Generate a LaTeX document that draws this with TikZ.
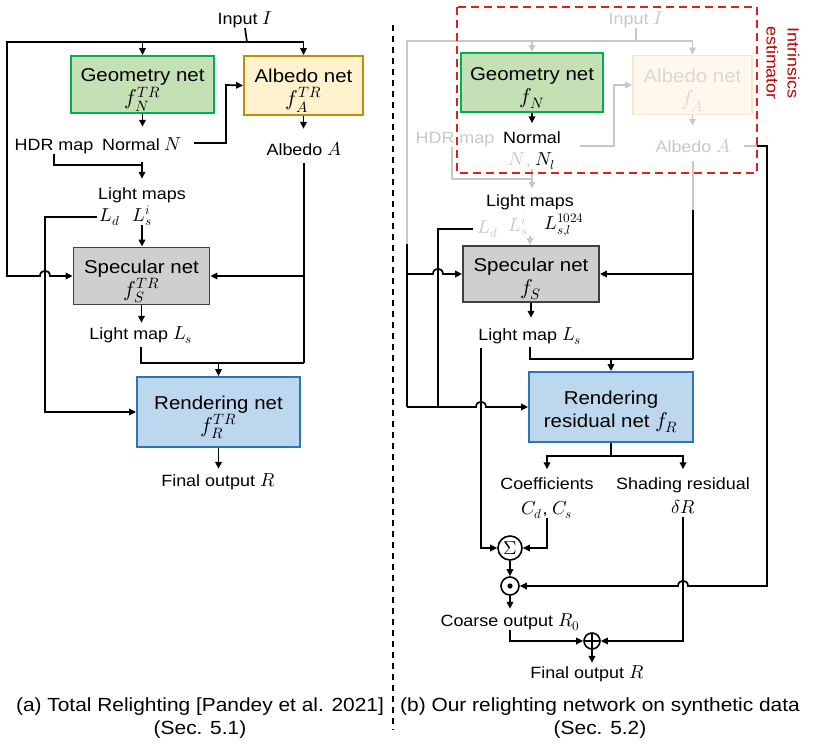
\documentclass[tikz,border=0pt]{standalone}
\usepackage{fontspec}
\usepackage{unicode-math}
\setmainfont[FakeStretch=1.1]{Liberation Sans}
\setmathfont{latinmodern-math.otf}[Scale=1.15]
\usetikzlibrary{arrows.meta}
\definecolor{geofill}{HTML}{C5E0B4}
\definecolor{geodraw}{HTML}{00B050}
\definecolor{albfill}{HTML}{FFF2CC}
\definecolor{albdraw}{HTML}{BF9000}
\definecolor{specfill}{HTML}{D0CECE}
\definecolor{specdraw}{HTML}{404040}
\definecolor{rendfill}{HTML}{BDD7EE}
\definecolor{renddraw}{HTML}{2E75B6}
\definecolor{lgray}{HTML}{C8C8C8}
\definecolor{albfade}{HTML}{FEF9EC}
\definecolor{albfadedraw}{HTML}{F4EACB}
\definecolor{fadetext}{HTML}{D9D9D9}
\definecolor{iered}{HTML}{C00000}
\definecolor{dashred}{HTML}{E02020}
\newcommand\labfont{\fontsize{16.3}{21}\selectfont}
\newcommand\titfont{\fontsize{18.6}{23}\selectfont}
\newcommand\capfont{\fontsize{19}{23}\selectfont}
\newcommand\topstrut{\rule{0pt}{24pt}}
\begin{document}
\begin{tikzpicture}[x=1pt,y=-1pt,
  ln/.style={line width=1.7pt, draw=black},
  arr/.style={ln, -{Triangle[length=7pt,width=6.5pt]}},
  gl/.style={line width=1.7pt, draw=lgray},
  garr/.style={gl, -{Triangle[length=7pt,width=6.5pt]}},
  lab/.style={font=\labfont, inner sep=0pt, text height=12pt, text depth=4pt},
  glab/.style={lab, text=lgray},
  box/.style={draw, line width=1.8pt, align=center, font=\titfont, inner sep=0pt},
  opnode/.style={circle, draw, line width=1.6pt, inner sep=0pt},
]
\useasboundingbox (0,0) rectangle (830,753);

% ---------------- left panel ----------------
\node[box, fill=geofill, draw=geodraw, minimum width=143pt, minimum height=57pt] (geoA) at (142.5,84.5) {\topstrut Geometry net\\$f_N^{TR}$};
\node[box, fill=albfill, draw=albdraw, minimum width=119pt, minimum height=59pt] (albA) at (303.5,85.5) {\topstrut Albedo net\\$f_A^{TR}$};
\node[box, fill=specfill, draw=specdraw, minimum width=136pt, minimum height=57pt] (specA) at (141.5,276) {\topstrut Specular net\\$f_S^{TR}$};
\node[box, fill=rendfill, draw=renddraw, minimum width=163pt, minimum height=70pt] (rendA) at (218.5,412) {\topstrut Rendering net\\$f_R^{TR}$};

\node[lab] (inA) at (245,20) {Input $I$};
\node[lab] (hdrA) at (54,146) {HDR map};
\node[lab] (norA) at (142,146) {Normal $N$};
\node[lab] (albLA) at (304,151) {Albedo $A$};
\node[lab] (lmA) at (142,195) {Light maps};
\node[lab] (ldA) at (110,217) {$L_d$};
\node[lab] (lsiA) at (142,217) {$L_s^i$};
\node[lab] (lmsA) at (141,335) {Light map $L_s$};
\node[lab] (finA) at (218,482) {Final output $R$};
\node[font=\capfont, align=center, inner sep=0pt] (capA) at (200,718) {(a) Total Relighting [Pandey et al. 2021]\\(Sec. 5.1)};

\coordinate (jA) at (247,42);
\coordinate (jH) at (142,165);
\coordinate (jAl) at (304,363);
\draw[ln] (inA.south) -- (jA);
\draw[arr] (jA) -| (geoA.north);
\draw[arr] (jA) -| (albA.north);
\draw[arr] (jA) -- (7,42) -- (7,276) -- (40,276) .. controls (40,269) and (50,269) .. (50,276) -- (specA.west);
\draw[arr, shorten >=11pt] (geoA.south) -- (geoA.south |- norA.north);
\draw[arr, shorten <=12pt] ([yshift=3pt]norA.east) -| (226,85) -- (albA.west);
\draw[arr, shorten >=14pt] (albA.south) -- (albA.south |- albLA.north);
\draw[ln] (hdrA.south) |- (jH);
\draw[ln, shorten <=8pt] (norA.south) -- (jH);
\draw[arr, shorten >=8pt] (jH) -- (jH |- lmA.north);
\draw[arr, shorten <=3pt] (ldA.west) -| (45,300) |- (rendA.west);
\draw[arr] (lsiA.south) -- (lsiA.south |- specA.north);
\draw[ln, shorten <=4pt] (albLA.south) -- (jAl);
\draw[arr] (albLA.south |- specA.east) -- (specA.east);
\draw[arr, shorten >=4pt] (specA.south) -- (specA.south |- lmsA.north);
\draw[ln, shorten <=4pt] (lmsA.south) |- (jAl);
\draw[arr] (rendA.north |- jAl) -- (rendA.north);
\draw[arr, shorten >=5pt] (rendA.south) -- (rendA.south |- finA.north);

% divider
\draw[line width=1.5pt, dash pattern=on 6pt off 5pt] (393,25) -- (393,730);

% ---------------- right panel ----------------
\node[box, fill=geofill, draw=geodraw, minimum width=142pt, minimum height=59pt] (geoB) at (532,82.5) {\topstrut Geometry net\\$f_N$};
\node[box, fill=albfade, draw=albfadedraw, text=fadetext, minimum width=119pt, minimum height=59pt] (albB) at (692.5,85) {\topstrut Albedo net\\$f_A$};
\node[box, fill=specfill, draw=specdraw, minimum width=136pt, minimum height=56pt] (specB) at (531,274) {\topstrut Specular net\\$f_S$};
\node[box, fill=rendfill, draw=renddraw, minimum width=164pt, minimum height=70pt] (rendB) at (611,407) {\topstrut Rendering\\residual net $f_R$};

\node[glab] (inB) at (636,20) {Input $I$};
\node[glab] (hdrB) at (455,139) {HDR map};
\node[lab] (norB) at (532,139) {Normal};
\node[lab] (nnlB) at (532,161) {\textcolor{lgray}{$N$,} $N_l$};
\node[glab] (albLB) at (693,148) {Albedo $A$};
\node[lab] (lmB) at (530,202) {Light maps};
\node[glab] (ldB) at (488,229) {$L_d$};
\node[glab] (lsiB) at (518,227) {$L_s^i$};
\node[lab] (lslB) at (564,225) {$L_{s,l}^{1024}$};
\node[lab] (lmsB) at (530,336) {Light map $L_s$};
\node[lab] (coefB) at (547,485) {Coefficients};
\node[lab] (cdB) at (547,510) {$C_d$, $C_s$};
\node[lab] (shadB) at (683,485) {Shading residual};
\node[lab] (drB) at (683,509) {$\delta R$};
\node[lab] (coarseB) at (510,622) {Coarse output $R_0$};
\node[lab] (finB) at (587,674) {Final output $R$};
\node[font=\capfont, align=center, inner sep=0pt] (capB) at (600,718) {(b) Our relighting network on synthetic data\\(Sec. 5.2)};
\node[font=\labfont, text=iered, rotate=-90, align=center, inner sep=0pt] (intr) at (783,63) {Intrinsics\\estimator};

\node[opnode, minimum size=24pt, font=\labfont] (sig) at (510,548) {$\Sigma$};
\node[opnode, minimum size=18pt, path picture={\fill (path picture bounding box.center) circle (2.6pt);}] (dot) at (510,586) {};
\node[opnode, minimum size=16pt, path picture={\draw[line width=1.6pt] (path picture bounding box.north) -- (path picture bounding box.south) (path picture bounding box.west) -- (path picture bounding box.east);}] (opl) at (592,641) {};

\coordinate (jB) at (636,41);
\coordinate (lB1) at (407,244);
\coordinate (lB2) at (407,407);
\coordinate (jLd) at (438,407);
\coordinate (nB) at (580,146);
\coordinate (jHB) at (532,179);
\coordinate (lsB) at (530,236);
\coordinate (aB1) at (693,210);
\coordinate (aB2) at (693,359);
\coordinate (aR1) at (757,146);
\coordinate (lsx) at (481,348);
\coordinate (rs) at (611,456);

\draw[gl] (inB.south) -- (jB);
\draw[garr] (jB) -| (geoB.north);
\draw[garr] (jB) -| (albB.north);
\draw[gl] (jB) -| (lB1);
\draw[ln] (lB1) -- (lB2);
\draw[arr] (lB1 |- specB.west) -- (433,274) .. controls (433,267) and (443,267) .. (443,274) -- (specB.west);
\draw[ln, shorten <=5pt] (ldB.west) -| (jLd);
\draw[arr] (lB2) -- (476,407) .. controls (476,400) and (486,400) .. (486,407) -- (rendB.west);
\draw[arr, shorten >=7.5pt] (geoB.south) -- (geoB.south |- norB.north);
\draw[garr] (nB) -| (614,85) -- (albB.west);
\draw[garr, shorten >=14pt] (albB.south) -- (albB.south |- albLB.north);
\draw[gl] ([xshift=-3pt]hdrB.south) |- (jHB);
\draw[gl] (nnlB.south) -- (jHB);
\draw[garr, shorten >=5pt] (jHB) -- (jHB |- lmB.north);
\draw[garr] (lsB) -- (lsB |- specB.north);
\draw[gl, shorten <=5pt] (albLB.south) -- (aB1);
\draw[ln] (aB1) -- (aB2);
\draw[arr] (aB1 |- specB.east) -- (specB.east);
\draw[arr, shorten >=10pt] (specB.south) -- (specB.south |- lmsB.north);
\draw[ln, shorten <=3pt] (lmsB.south) |- (aB2);
\draw[arr] (rendB.north |- aB2) -- (rendB.north);
\draw[arr] (lsx) |- (sig.west);
\draw[gl, shorten <=13pt] ([yshift=2pt]albLB.east) -- (aR1);
\draw[arr] (aR1) -- (767,146) -- (767,586) -- (688,586) .. controls (688,579) and (678,579) .. (678,586) -- (dot.east);
\draw[ln] (rendB.south) -- (rs);
\draw[arr, shorten >=7.5pt] (rs) -| (coefB.north);
\draw[arr, shorten >=7.5pt] (rs) -| (shadB.north);
\draw[arr] (cdB.south) |- (sig.east);
\draw[arr] (drB.south) |- (opl.east);
\draw[arr] (sig.south) -- (dot.north);
\draw[arr, shorten >=5pt] (dot.south) -- (dot.south |- coarseB.north);
\draw[arr] (coarseB.south) |- (opl.west);
\draw[arr, shorten >=3pt] (opl.south) -- (opl.south |- finB.north);

\draw[draw=dashred, line width=1.5pt, dash pattern=on 8pt off 5pt] (457,7) rectangle (757,173);
\end{tikzpicture}
\end{document}
